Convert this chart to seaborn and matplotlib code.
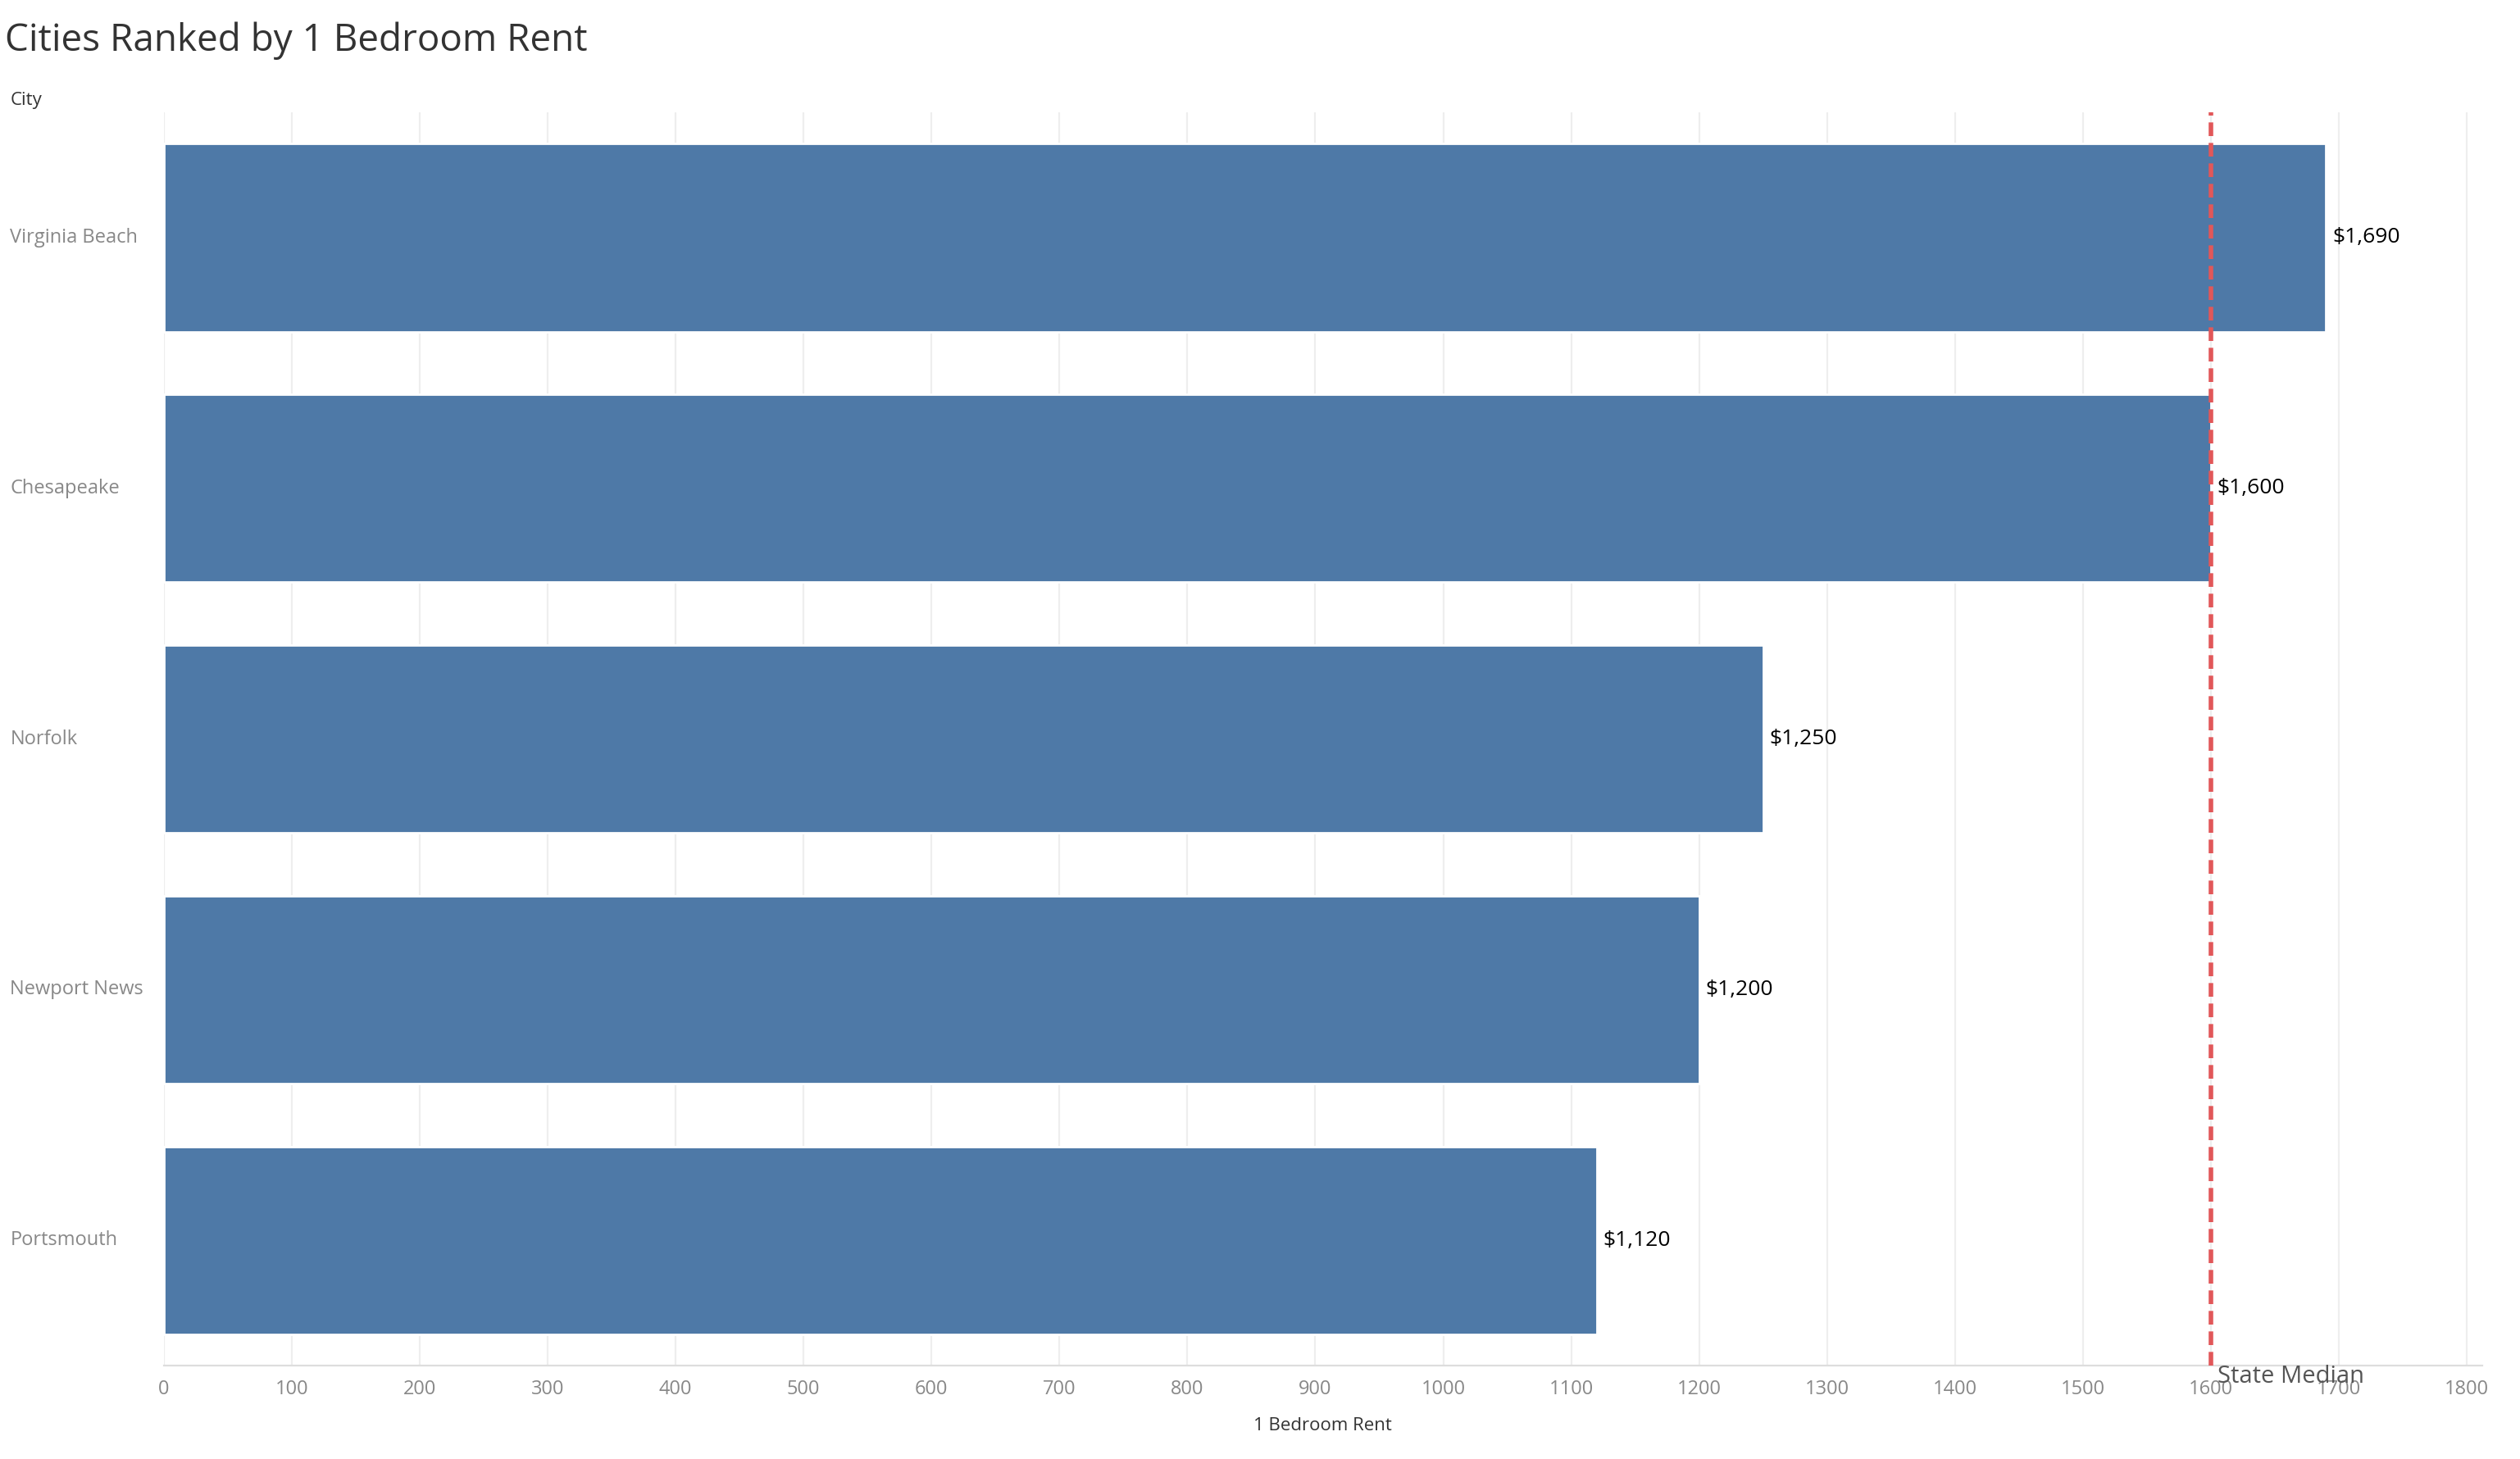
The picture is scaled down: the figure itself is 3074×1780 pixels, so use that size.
import matplotlib.pyplot as plt
import matplotlib.transforms as mtransforms
import seaborn as sns
import pandas as pd

cities = ["Virginia Beach", "Chesapeake", "Norfolk", "Newport News", "Portsmouth"]
rent = [1690, 1600, 1250, 1200, 1120]
state_median = 1600
xticks = list(range(0, 1900, 100))

df = pd.DataFrame({"City": cities, "Rent": rent})

sns.set_style("white")
plt.rcParams['font.family'] = ['Open Sans', 'DejaVu Sans']

fig = plt.figure(figsize=(15.37, 8.9), dpi=200)
ax = fig.add_axes([0.065, 0.064, 0.92, 0.859])

sns.barplot(data=df, x="Rent", y="City", color="#4e79a7", saturation=1, width=0.75, ax=ax, zorder=2)

ax.set_xlim(0, 1812)
ax.set_xticks(xticks)
ax.set_xticklabels([str(t) for t in xticks], fontsize=8.5, color="#888888")
ax.tick_params(axis='x', length=3, color="#dddddd", pad=3)
ax.grid(axis='x', color="#eeeeee", linewidth=0.8, zorder=0)
for s in ax.spines.values():
    s.set_visible(False)
ax.spines['bottom'].set_visible(True)
ax.spines['bottom'].set_color("#dddddd")

ax.set_yticks(range(len(cities)))
ax.set_yticklabels([])
ax.tick_params(axis='y', length=0)
trans = mtransforms.blended_transform_factory(fig.transFigure, ax.transData)
for i, c in enumerate(cities):
    ax.text(0.004, i, c, transform=trans, ha='left', va='center', fontsize=8.5, color="#888888")
    ax.text(rent[i] + 5, i, f"${rent[i]:,}", ha='left', va='center', fontsize=9.5, color="black", zorder=4)

ax.axvline(state_median, color="#e15759", linestyle=(0, (3, 1.5)), linewidth=2, zorder=3)
ax.text(state_median + 5, 4.59, "State Median", ha='left', va='bottom', fontsize=10.5, color="#555555")

ax.set_ylabel("")
ax.set_xlabel("1 Bedroom Rent", fontsize=8, color="#333333", labelpad=8)
fig.text(0.004, 0.931, "City", fontsize=8, color="#333333", ha='left', va='center')
fig.text(0.002, 0.972, "Cities Ranked by 1 Bedroom Rent", fontsize=16.5, color="#333333", ha='left', va='center')

fig.savefig("out.png", dpi=200)
